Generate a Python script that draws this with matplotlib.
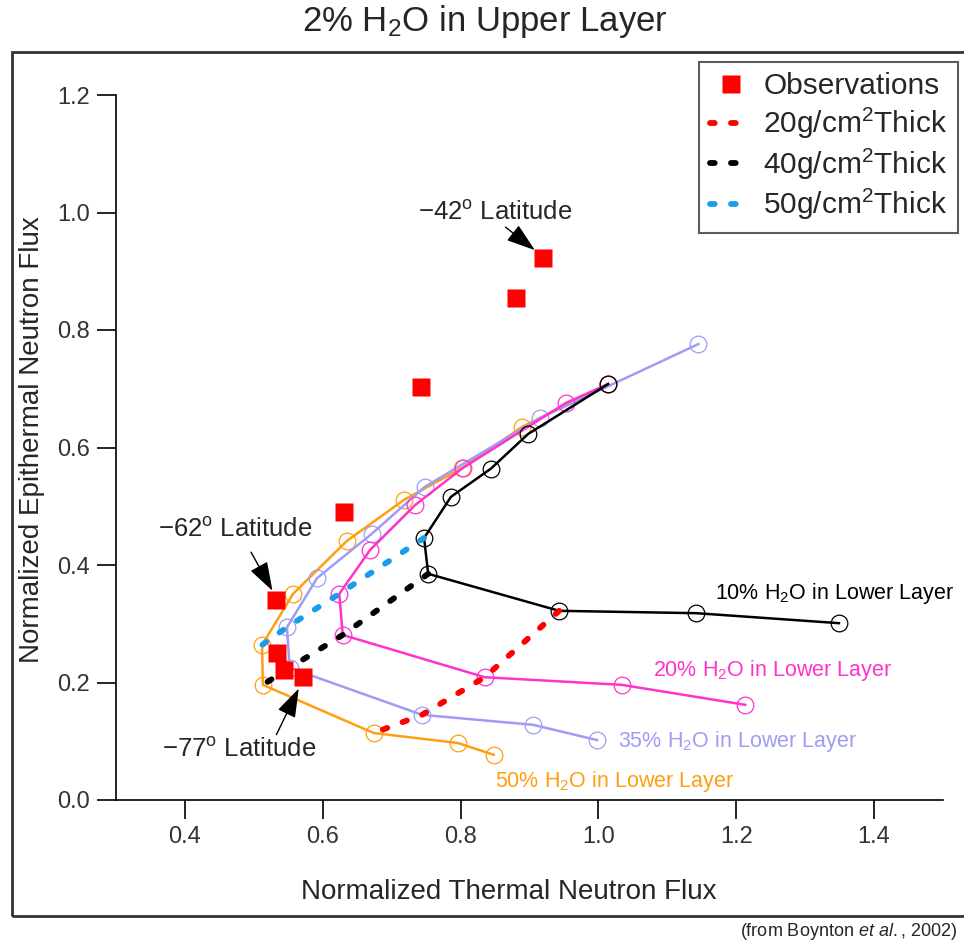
import matplotlib
matplotlib.use("Agg")
import matplotlib.pyplot as plt
from matplotlib.lines import Line2D
from matplotlib.patches import Rectangle

plt.rcParams["font.family"] = ["Liberation Sans", "DejaVu Sans"]
plt.rcParams["mathtext.fontset"] = "custom"
plt.rcParams["mathtext.rm"] = "Liberation Sans"
plt.rcParams["mathtext.it"] = "Liberation Sans:italic"
plt.rcParams["mathtext.bf"] = "Liberation Sans:bold"

# observations (red squares)
obs_x = [0.920, 0.880, 0.742, 0.631, 0.532, 0.534, 0.544, 0.571]
obs_y = [0.922, 0.854, 0.703, 0.490, 0.340, 0.250, 0.221, 0.209]

# model curves, 2% H2O upper layer over wetter lower layer
h10_x = [1.014, 0.898, 0.844, 0.786, 0.747, 0.753, 0.943, 1.142, 1.349]
h10_y = [0.708, 0.623, 0.564, 0.516, 0.446, 0.385, 0.322, 0.318, 0.301]

h20_x = [1.014, 0.953, 0.803, 0.734, 0.669, 0.624, 0.629, 0.835, 1.034, 1.213]
h20_y = [0.708, 0.676, 0.565, 0.502, 0.426, 0.351, 0.281, 0.209, 0.196, 0.162]

h35_x = [1.145, 0.915, 0.748, 0.671, 0.592, 0.548, 0.552, 0.744, 0.905, 0.998]
h35_y = [0.776, 0.650, 0.533, 0.453, 0.378, 0.294, 0.225, 0.145, 0.128, 0.102]

h50_x = [1.014, 0.889, 0.802, 0.718, 0.635, 0.557, 0.512, 0.513, 0.674,
         0.796, 0.848]
h50_y = [0.708, 0.635, 0.565, 0.511, 0.441, 0.351, 0.264, 0.196, 0.114,
         0.097, 0.077]

# upper layer thickness lines
t20_x = [0.943, 0.835, 0.744, 0.674]
t20_y = [0.322, 0.209, 0.145, 0.114]
t40_x = [0.753, 0.629, 0.552, 0.513]
t40_y = [0.385, 0.281, 0.225, 0.196]
t50_x = [0.747, 0.624, 0.548, 0.512]
t50_y = [0.446, 0.351, 0.294, 0.264]

x_ticks = [0.4, 0.6, 0.8, 1.0, 1.2, 1.4]
y_ticks = [0.0, 0.2, 0.4, 0.6, 0.8, 1.0, 1.2]

TXT = "#262626"
PINK = "#ff33cc"
LAV = "#a09cf6"
ORANGE = "#ff9f10"
BLUE = "#1a9ceb"

fig = plt.figure(figsize=(9.64, 9.40), dpi=100)
ax = fig.add_axes([116 / 964, 1 - 800 / 940, 827 / 964, 705 / 940])

curve_kw = dict(lw=1.8, marker="o", ms=12, mfc="none", mew=0.9)
ax.plot(h50_x, h50_y, color=ORANGE, **curve_kw)
ax.plot(h35_x, h35_y, color=LAV, **curve_kw)
ax.plot(h20_x, h20_y, color=PINK, **curve_kw)
ax.plot(h10_x, h10_y, color="black", **curve_kw)

dot_kw = dict(lw=4.2, linestyle=(0, (0.8, 2.8)), dash_capstyle="round")
ax.plot(t20_x, t20_y, color="red", **dot_kw)
ax.plot(t40_x, t40_y, color="black", **dot_kw)
ax.plot(t50_x, t50_y, color=BLUE, **dot_kw)

ax.plot(obs_x, obs_y, "s", color="red", ms=13, mec="none")

# latitude annotations
arrow = dict(arrowstyle="-|>,head_length=0.9,head_width=0.3",
             color="black", lw=1.0, mutation_scale=20)
ax.annotate("", xy=(0.911, 0.933), xytext=(0.862, 0.978), arrowprops=arrow)
ax.annotate("", xy=(0.529, 0.352), xytext=(0.494, 0.426), arrowprops=arrow)
ax.annotate("", xy=(0.567, 0.194), xytext=(0.531, 0.107), arrowprops=arrow)
lat_kw = dict(fontsize=18.5, color=TXT, va="center", ha="left")
ax.text(0.738, 1.000, r"$-$42$^{\rm o}$ Latitude", **lat_kw)
ax.text(0.361, 0.460, r"$-$62$^{\rm o}$ Latitude", **lat_kw)
ax.text(0.367, 0.085, r"$-$77$^{\rm o}$ Latitude", **lat_kw)

lab_kw = dict(fontsize=15.5, va="center", ha="left")
ax.text(1.169, 0.351, r"10% H$_2$O in Lower Layer", color="black", **lab_kw)
ax.text(1.079, 0.220, r"20% H$_2$O in Lower Layer", color=PINK, **lab_kw)
ax.text(1.028, 0.100, r"35% H$_2$O in Lower Layer", color=LAV, **lab_kw)
ax.text(0.850, 0.032, r"50% H$_2$O in Lower Layer", color=ORANGE, **lab_kw)

ax.set_xlim(0.3, 1.5)
ax.set_ylim(0, 1.2)
ax.set_xticks(x_ticks)
ax.set_yticks(y_ticks)
ax.set_xticklabels([f"{v:.1f}" for v in x_ticks])
ax.set_yticklabels([f"{v:.1f}" for v in y_ticks])
ax.tick_params(direction="out", length=14, width=1.2, labelsize=17,
               labelcolor="#333333", pad=5)
ax.spines["top"].set_visible(False)
ax.spines["right"].set_visible(False)
for s in ("left", "bottom"):
    ax.spines[s].set_linewidth(1.2)
ax.patch.set_alpha(0)

handles = [
    Line2D([], [], marker="s", color="red", ls="none", ms=13, mec="none"),
    Line2D([], [], color="red", **dot_kw),
    Line2D([], [], color="black", **dot_kw),
    Line2D([], [], color=BLUE, **dot_kw),
]
labels = ["Observations", "20g/cm$^2$Thick", "40g/cm$^2$Thick",
          "50g/cm$^2$Thick"]
leg = fig.legend(handles, labels, loc="upper right",
                 bbox_to_anchor=(958 / 964, 1 - 62 / 940), fontsize=21.5,
                 frameon=True, fancybox=False, edgecolor="#333333",
                 handlelength=1.4, handletextpad=0.4, labelspacing=0.18,
                 borderpad=0.35, borderaxespad=0)
leg.get_frame().set_linewidth(1.5)
for t in leg.get_texts():
    t.set_color(TXT)

# outer frame
fig.patches.append(Rectangle((12 / 964, 1 - 916 / 940), 1.1, 864 / 940,
                             transform=fig.transFigure, fill=False,
                             ec="#333333", lw=2))

fig.text(485 / 964, 1 - 22 / 940, r"2% H$_2$O in Upper Layer",
         fontsize=25, color=TXT, ha="center", va="center")
fig.text(509 / 964, 1 - 892 / 940, "Normalized Thermal Neutron Flux",
         fontsize=20, color=TXT, ha="center", va="center")
fig.text(32 / 964, 1 - 440 / 940, "Normalized Epithermal Neutron Flux",
         fontsize=20, color=TXT, ha="center", va="center", rotation=90)
fig.text(740 / 964, 1 - 931 / 940, r"(from Boynton $et\ al.$, 2002)",
         fontsize=13, color=TXT, ha="left", va="center")

fig.savefig("out.png", dpi=100, facecolor="white")
